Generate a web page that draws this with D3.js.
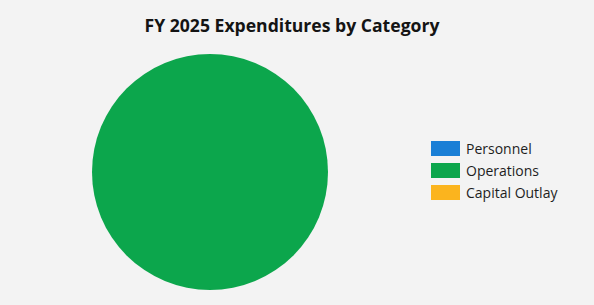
<!DOCTYPE html>
<html>
<head>
<meta charset="utf-8">
<script src="https://cdn.jsdelivr.net/npm/d3@7"></script>
<style>
  html, body { margin: 0; padding: 0; background: #f3f3f3; }
  svg { display: block; }
</style>
</head>
<body>
<div id="chart"></div>
<script>
const categories = ['Personnel', 'Operations', 'Capital Outlay'];
const amounts = [0, 100, 0];
const colors = ['#1a7fd6', '#0ca64c', '#fbb41e'];

const W = 594, H = 305;
const CX = 210, CY = 172, R = 118;

const svg = d3.select('#chart')
  .append('svg')
    .attr('width', W)
    .attr('height', H);

svg.append('rect')
  .attr('width', W)
  .attr('height', H)
  .attr('fill', '#f3f3f3');

svg.append('text')
  .attr('x', 292)
  .attr('y', 32)
  .attr('text-anchor', 'middle')
  .attr('style', 'font-family: "Open Sans"; font-weight: 700; font-size: 17.6px')
  .attr('fill', '#141414')
  .text('FY 2025 Expenditures by Category');

const data = categories.map((c, i) => ({ name: c, value: amounts[i] }));
const color = d3.scaleOrdinal().domain(categories).range(colors);

const pie = d3.pie().sort(null).value(d => d.value);
const arc = d3.arc().innerRadius(0).outerRadius(R);

svg.append('g')
    .attr('transform', `translate(${CX}, ${CY})`)
  .selectAll('path')
  .data(pie(data))
  .join('path')
    .attr('d', arc)
    .attr('fill', d => color(d.data.name));

// legend
const legendY = d3.scaleBand().domain(categories).range([140, 206]).paddingInner(0);
const legend = svg.append('g')
  .selectAll('g')
  .data(categories)
  .join('g')
    .attr('transform', d => `translate(431, ${legendY(d)})`);

legend.append('rect')
  .attr('y', 1)
  .attr('width', 29)
  .attr('height', 15)
  .attr('fill', d => color(d));

legend.append('text')
  .attr('x', 35)
  .attr('y', 14)
  .attr('style', 'font-family: "Open Sans"; font-size: 14px')
  .attr('fill', '#1e1e1e')
  .text(d => d);
</script>
</body>
</html>
